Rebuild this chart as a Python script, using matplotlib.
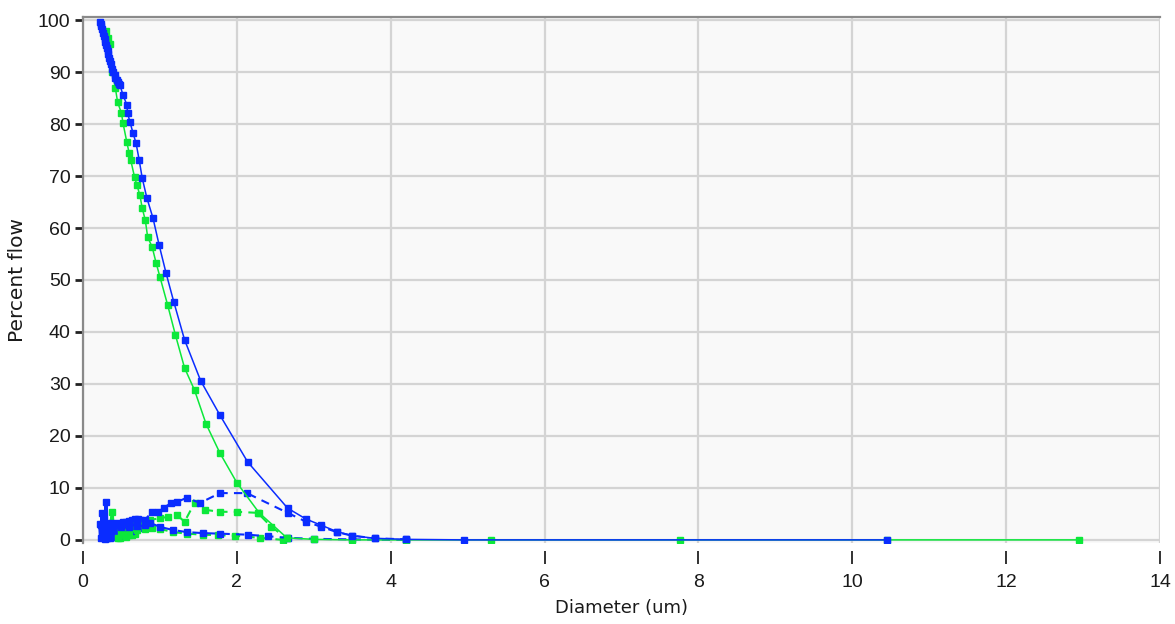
import matplotlib
matplotlib.use("Agg")
import matplotlib.pyplot as plt

# ---- cumulative percent flow curves ----
blue_cum_x = [0.22, 0.23, 0.24, 0.25, 0.26, 0.27, 0.28, 0.29, 0.30, 0.31, 0.32,
              0.33, 0.34, 0.35, 0.36, 0.38, 0.39, 0.41, 0.42, 0.44, 0.45, 0.47,
              0.48, 0.52, 0.57, 0.58, 0.61, 0.65, 0.69, 0.73, 0.77, 0.83, 0.91,
              0.99, 1.08, 1.18, 1.32, 1.53, 1.78, 2.14, 2.66, 2.90, 3.10, 3.30,
              3.50, 3.80, 4.20, 4.95, 10.45]
blue_cum_y = [99.6, 99.3, 98.8, 98.2, 97.6, 97.0, 96.4, 95.8, 95.2, 94.6, 94.0,
              93.4, 92.8, 92.2, 91.6, 90.6, 90.0, 89.4, 88.8, 88.4, 88.0, 87.8,
              87.5, 85.6, 83.7, 82.1, 80.4, 78.3, 76.3, 73.1, 69.6, 65.8, 61.9,
              56.7, 51.3, 45.8, 38.5, 30.6, 24.0, 15.0, 6.1, 4.0, 2.8, 1.6,
              0.8, 0.3, 0.1, 0.0, 0.0]

green_cum_x = [0.30, 0.33, 0.35, 0.38, 0.42, 0.45, 0.50, 0.52, 0.57, 0.60, 0.62,
               0.67, 0.70, 0.74, 0.77, 0.81, 0.84, 0.90, 0.95, 1.00, 1.10, 1.20,
               1.32, 1.45, 1.60, 1.78, 2.00, 2.29, 2.65, 3.00, 3.50, 4.20, 5.30,
               7.76, 10.45, 12.95]
green_cum_y = [98.0, 96.5, 95.5, 90.0, 87.0, 84.2, 82.1, 80.2, 76.5, 74.4, 73.1,
               69.8, 68.3, 66.3, 63.8, 61.5, 58.3, 56.3, 53.3, 50.6, 45.2, 39.5,
               33.1, 28.8, 22.3, 16.7, 11.0, 5.2, 0.4, 0.1, 0.0, 0.0, 0.0,
               0.0, 0.0, 0.0]

# ---- pore size distributions ----
blue_dist_x = [0.60, 0.70, 0.80, 0.90, 0.97, 1.05, 1.15, 1.22, 1.35, 1.52, 1.78,
               2.13, 2.66, 2.90, 3.10, 3.30, 3.50, 3.80, 4.20]
blue_dist_y = [2.5, 3.2, 3.8, 5.4, 5.4, 6.2, 7.1, 7.3, 8.1, 7.1, 9.0,
               9.0, 5.2, 3.5, 2.5, 1.5, 0.8, 0.3, 0.1]

blue_diff_x = [0.50, 0.60, 0.70, 0.80, 0.87, 1.00, 1.17, 1.35, 1.56, 1.78, 2.14,
               2.40, 2.66, 3.00, 3.50, 4.20]
blue_diff_y = [2.5, 2.6, 2.6, 2.8, 3.3, 2.5, 1.9, 1.5, 1.3, 1.2, 1.0,
               0.7, 0.4, 0.2, 0.1, 0.0]

green_dist_x = [0.50, 0.60, 0.70, 0.80, 0.87, 1.00, 1.10, 1.22, 1.32, 1.45, 1.58,
                1.78, 2.00, 2.27, 2.45, 2.65]
green_dist_y = [1.5, 2.2, 2.8, 3.3, 3.8, 4.2, 4.4, 4.8, 3.5, 7.1, 5.8,
                5.4, 5.4, 5.2, 2.5, 0.3]

green_diff_x = [0.45, 0.55, 0.60, 0.70, 0.80, 0.90, 1.00, 1.17, 1.35, 1.56, 1.75,
                1.97, 2.30, 2.60]
green_diff_y = [0.3, 1.0, 1.4, 1.9, 2.1, 2.3, 2.1, 1.5, 1.2, 1.0, 0.9,
                0.8, 0.4, 0.0]

# raw fine-step flow data at the smallest diameters
blue_raw_x = [0.22, 0.23, 0.24, 0.25, 0.26, 0.27, 0.28, 0.29, 0.30, 0.31, 0.32,
              0.33, 0.34, 0.35, 0.36, 0.37, 0.38, 0.39, 0.40, 0.41, 0.42, 0.43,
              0.44, 0.45, 0.46, 0.47, 0.48, 0.49, 0.50, 0.51, 0.52, 0.53, 0.54,
              0.55, 0.56, 0.57, 0.58, 0.59, 0.60, 0.61, 0.62, 0.63, 0.64, 0.65,
              0.66, 0.67, 0.68, 0.69, 0.70, 0.71, 0.72, 0.73, 0.74]
blue_raw_y = [3.0, 0.3, 2.8, 5.2, 0.5, 3.1, 0.2, 2.9, 7.3, 0.4, 3.0,
              0.6, 2.7, 0.3, 3.2, 0.8, 2.9, 0.5, 3.0, 1.0, 2.8, 0.7,
              3.3, 1.2, 3.0, 0.9, 3.1, 1.4, 2.9, 1.1, 3.4, 1.6, 3.2,
              1.3, 3.5, 1.8, 3.3, 1.5, 3.6, 2.0, 3.4, 1.8, 3.8, 2.2,
              3.6, 2.0, 4.0, 2.4, 3.8, 2.3, 4.1, 2.6, 3.9]

green_raw_x = [0.30, 0.32, 0.34, 0.36, 0.38, 0.40, 0.42, 0.44, 0.46, 0.48, 0.50,
               0.52, 0.54, 0.56, 0.58, 0.60, 0.62, 0.64, 0.66, 0.68, 0.70]
green_raw_y = [0.4, 2.6, 0.9, 3.0, 5.4, 0.6, 2.8, 0.5, 2.4, 0.3, 2.2,
               0.8, 2.6, 0.6, 2.5, 1.0, 2.9, 0.9, 3.1, 1.2, 2.8]

BLUE = "#0a2cff"
GREEN = "#0ce83a"

fig = plt.figure(figsize=(11.75, 6.24), dpi=100)
ax = fig.add_axes([83 / 1175, 1 - 543 / 624, (1160 - 83) / 1175, (543 - 17) / 624])
ax.set_facecolor("#f9f9f9")

ms = 4.0
dash = (0, (4, 3))
# raw fine data
ax.plot(green_raw_x, green_raw_y, color=GREEN, lw=2.2, marker="s", ms=ms + 0.5, zorder=3)
ax.plot(blue_raw_x, blue_raw_y, color=BLUE, lw=2.6, marker="s", ms=ms + 0.5, zorder=3)
# distributions
ax.plot(green_diff_x, green_diff_y, color=GREEN, lw=1.5, ls=dash, marker="s", ms=ms, zorder=4)
ax.plot(green_dist_x, green_dist_y, color=GREEN, lw=1.5, ls=dash, marker="s", ms=ms, zorder=4)
ax.plot(blue_diff_x, blue_diff_y, color=BLUE, lw=1.5, ls=dash, marker="s", ms=ms, zorder=4)
ax.plot(blue_dist_x, blue_dist_y, color=BLUE, lw=1.5, ls=dash, marker="s", ms=ms, zorder=4)
# cumulative curves
ax.plot(green_cum_x, green_cum_y, color=GREEN, lw=1.1, marker="s", ms=ms, zorder=5)
ax.plot(blue_cum_x, blue_cum_y, color=BLUE, lw=1.1, marker="s", ms=ms, zorder=6)

ax.set_xlim(0, 14)
ax.set_ylim(-0.6, 100.6)
ax.set_xticks(range(0, 15, 2))
ax.set_yticks(range(0, 101, 10))

ax.grid(True, color="#d4d4d4", lw=1.6, zorder=0)
ax.set_axisbelow(True)

for side in ("right", "bottom"):
    ax.spines[side].set_visible(False)
ax.spines["bottom"].set_position(("outward", 6))
for side in ("top", "left"):
    ax.spines[side].set_color("#8a8a8a")
    ax.spines[side].set_linewidth(1.6)

ax.tick_params(axis="x", direction="out", length=9, width=1.3, color="#222222", pad=7)
ax.tick_params(axis="y", direction="out", length=6, width=2.0, color="#222222", pad=3)
for lab in ax.get_xticklabels() + ax.get_yticklabels():
    lab.set_fontfamily("Liberation Sans")
    lab.set_fontsize(14)
    lab.set_color("#1a1a1a")

ax.set_xlabel("Diameter (um)", fontsize=13, family="DejaVu Sans", color="#1a1a1a", labelpad=6)
ax.set_ylabel("Percent flow", fontsize=14.5, family="DejaVu Sans", color="#1a1a1a", labelpad=8)

fig.savefig("out.png", dpi=100, facecolor="white")
